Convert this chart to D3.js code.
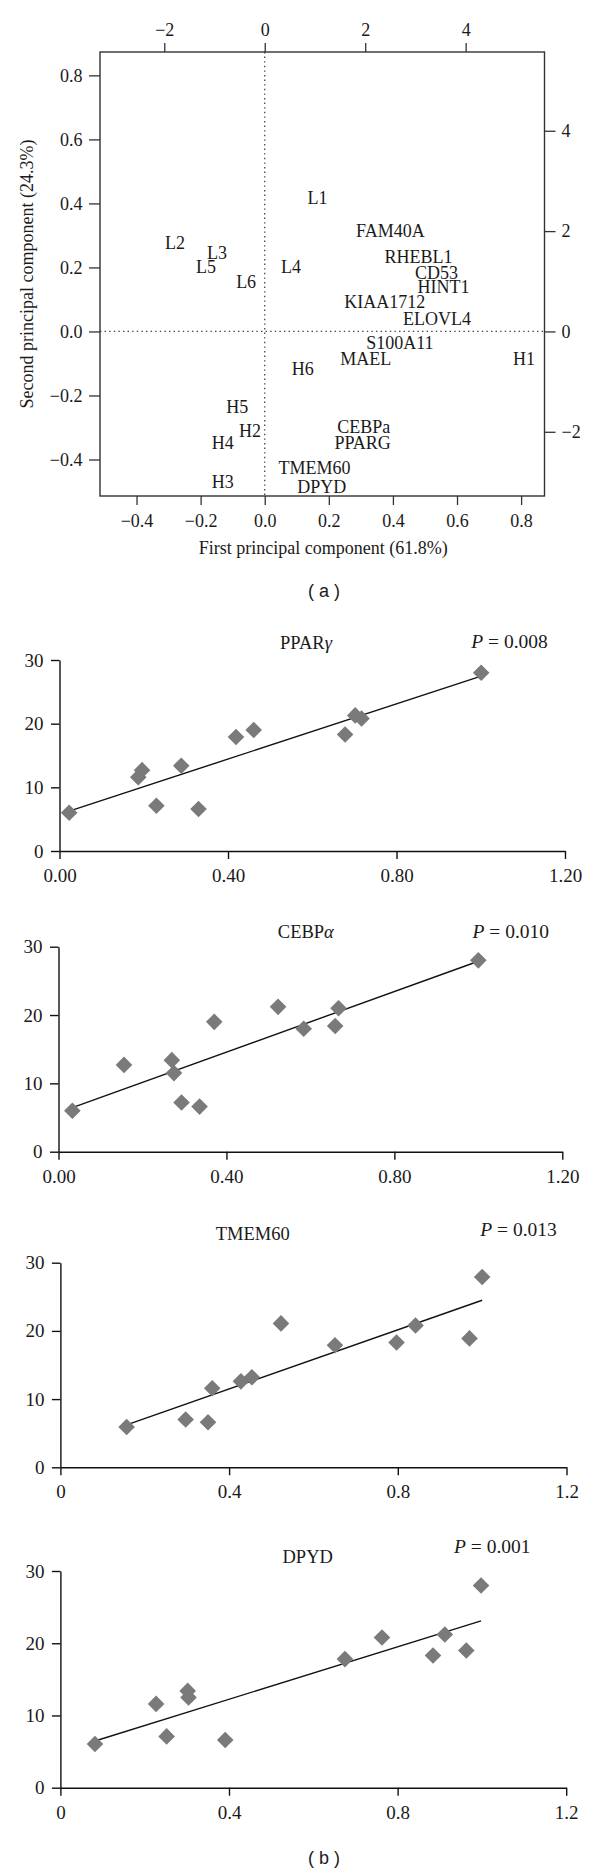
<!DOCTYPE html>
<html>
<head>
<meta charset="utf-8">
<script src="https://cdn.jsdelivr.net/npm/d3@7"></script>
<style>
  body { margin: 0; background: #fff; }
  svg { display: block; }
  text { font-family: "Liberation Serif", "Times New Roman", serif; fill: #1a1a1a; }
</style>
</head>
<body>
<svg id="chart" width="600" height="1875"></svg>
<script>
// ---------- Panel (a): PCA biplot ----------
const obsLabels = ["L1","L2","L3","L4","L5","L6","H1","H2","H3","H4","H5","H6"];
const obsPC1 = [0.165,-0.280,-0.149,0.082,-0.183,-0.058,0.809,-0.046,-0.131,-0.131,-0.086,0.119];
const obsPC2 = [0.416,0.276,0.246,0.201,0.201,0.156,-0.087,-0.310,-0.469,-0.349,-0.235,-0.118];
const geneLabels = ["FAM40A","RHEBL1","CD53","HINT1","KIAA1712","ELOVL4","S100A11","MAEL","CEBPa","PPARG","TMEM60","DPYD"];
const genePC1 = [2.50,3.06,3.42,3.56,2.39,3.43,2.69,2.01,1.97,1.95,0.99,1.135];
const genePC2 = [2.00,1.48,1.16,0.88,0.58,0.25,-0.235,-0.55,-1.90,-2.23,-2.71,-3.10];
const pcLim = [-0.514, 0.873];
const loadLim = [-3.28, 5.57];
const pcTicks = [-0.4,-0.2,0.0,0.2,0.4,0.6,0.8];
const loadTicks = [-2,0,2,4];
const xTitleA = "First principal component (61.8%)";
const yTitleA = "Second principal component (24.3%)";

// ---------- Panel (b): scatter plots ----------
const pparX = [0.023,0.187,0.196,0.230,0.289,0.330,0.419,0.461,0.678,0.702,0.717,1.001];
const pparY = [6.0,11.6,12.7,7.1,13.4,6.6,17.9,19.0,18.3,21.3,20.8,28.0];
const cebpX = [0.033,0.156,0.270,0.275,0.293,0.336,0.371,0.523,0.584,0.659,0.667,1.0];
const cebpY = [6.0,12.7,13.4,11.5,7.2,6.6,19.0,21.2,18.0,18.4,21.0,28.0];
const tmemX = [0.157,0.297,0.350,0.360,0.428,0.454,0.523,0.651,0.797,0.842,0.970,1.0];
const tmemY = [5.9,7.0,6.6,11.6,12.6,13.2,21.1,17.9,18.3,20.8,18.9,27.9];
const dpydX = [0.082,0.227,0.252,0.302,0.304,0.391,0.675,0.763,0.884,0.912,0.963,0.998];
const dpydY = [6.05,11.6,7.1,13.4,12.5,6.6,17.8,20.8,18.3,21.2,19.0,28.0];
const scatterXTicks = [0, 0.4, 0.8, 1.2];
const scatterYTicks = [0, 10, 20, 30];
const scatterTitles = ["PPAR", "CEBP", "TMEM60", "DPYD"];
const scatterGreek = ["γ", "α", "", ""];
const pValues = ["0.008", "0.010", "0.013", "0.001"];
const xTickFormats = [".2f", ".2f", "", ""];

const svg = d3.select("#chart");
const FS_A = 18;

// ===== Panel (a) =====
const boxA = {left: 100, right: 544.5, top: 52, bottom: 496};
const xA = d3.scaleLinear().domain(pcLim).range([boxA.left, boxA.right]);
const yA = d3.scaleLinear().domain(pcLim).range([boxA.bottom, boxA.top]);
const xA2 = d3.scaleLinear().domain(loadLim).range([boxA.left, boxA.right]);
const yA2 = d3.scaleLinear().domain(loadLim).range([boxA.bottom, boxA.top]);

const gA = svg.append("g");
const fmt1 = d3.format(".1f");

function styleAxis(g, fs, col) {
  g.selectAll(".domain").remove();
  g.selectAll(".tick line").attr("stroke", col).attr("stroke-width", 1.3);
  g.selectAll(".tick text").attr("font-family", "Liberation Serif, serif")
    .attr("font-size", fs).attr("fill", "#1a1a1a");
}

gA.append("g").attr("transform", `translate(0,${boxA.bottom})`)
  .call(d3.axisBottom(xA).tickValues(pcTicks).tickFormat(fmt1).tickSize(9).tickPadding(9))
  .call(g => styleAxis(g, FS_A, "#333"));
gA.append("g").attr("transform", `translate(${boxA.left},0)`)
  .call(d3.axisLeft(yA).tickValues(pcTicks).tickFormat(fmt1).tickSize(11).tickPadding(6.5))
  .call(g => styleAxis(g, FS_A, "#333"));
gA.append("g").attr("transform", `translate(0,${boxA.top})`)
  .call(d3.axisTop(xA2).tickValues(loadTicks).tickFormat(d3.format("d")).tickSize(9).tickPadding(7))
  .call(g => styleAxis(g, FS_A, "#333"));
gA.append("g").attr("transform", `translate(${boxA.right},0)`)
  .call(d3.axisRight(yA2).tickValues(loadTicks).tickFormat(d3.format("d")).tickSize(11).tickPadding(6))
  .call(g => styleAxis(g, FS_A, "#333"));

// dotted zero lines
gA.append("line").attr("x1", xA(0)).attr("x2", xA(0)).attr("y1", boxA.top).attr("y2", boxA.bottom)
  .attr("stroke", "#444").attr("stroke-width", 1.3).attr("stroke-dasharray", "1.4,3.2");
gA.append("line").attr("x1", boxA.left).attr("x2", boxA.right).attr("y1", yA(0)).attr("y2", yA(0))
  .attr("stroke", "#444").attr("stroke-width", 1.3).attr("stroke-dasharray", "1.4,3.2");

// box
gA.append("rect").attr("x", boxA.left).attr("y", boxA.top)
  .attr("width", boxA.right - boxA.left).attr("height", boxA.bottom - boxA.top)
  .attr("fill", "none").attr("stroke", "#333").attr("stroke-width", 1.4);

// observation labels
gA.selectAll("text.obs").data(obsLabels).join("text").attr("class", "obs")
  .attr("x", (d, i) => xA(obsPC1[i])).attr("y", (d, i) => yA(obsPC2[i]))
  .attr("dy", "0.34em").attr("text-anchor", "middle").attr("font-size", FS_A).text(d => d);
// gene labels
gA.selectAll("text.gene").data(geneLabels).join("text").attr("class", "gene")
  .attr("x", (d, i) => xA2(genePC1[i])).attr("y", (d, i) => yA2(genePC2[i]))
  .attr("dy", "0.34em").attr("text-anchor", "middle").attr("font-size", FS_A).text(d => d);

// axis titles
gA.append("text").attr("x", (boxA.left + boxA.right) / 2 + 1).attr("y", 554)
  .attr("text-anchor", "middle").attr("font-size", FS_A).text(xTitleA);
gA.append("text").attr("transform", `translate(33,${(boxA.top + boxA.bottom) / 2}) rotate(-90)`)
  .attr("text-anchor", "middle").attr("font-size", FS_A).text(yTitleA);

svg.append("text").attr("x", 324).attr("y", 597).attr("text-anchor", "middle")
  .attr("font-size", 18).style("font-family", "Liberation Sans, Arial, sans-serif").text("( a )");

// ===== Panel (b) =====
const xsAll = [pparX, cebpX, tmemX, dpydX];
const ysAll = [pparY, cebpY, tmemY, dpydY];
const layouts = [
  {x0: 59.5, x1: 565, yTop: 660, yBot: 851, tX: 306, tY: 649, pX: 509.5, pY: 648},
  {x0: 58.5, x1: 562.3, yTop: 946.7, yBot: 1151.7, tX: 305.8, tY: 938, pX: 510.8, pY: 938},
  {x0: 60.4, x1: 566.5, yTop: 1262.7, yBot: 1467.3, tX: 252.7, tY: 1240, pX: 518.5, pY: 1236},
  {x0: 60.4, x1: 566.2, yTop: 1571, yBot: 1787.7, tX: 307.7, tY: 1562.7, pX: 492.3, pY: 1553.3}
];

layouts.forEach((L, k) => {
  const xs = xsAll[k], ys = ysAll[k];
  const x = d3.scaleLinear().domain([0, 1.2]).range([L.x0, L.x1]);
  const y = d3.scaleLinear().domain([0, 30]).range([L.yBot, L.yTop]);
  const g = svg.append("g");
  const xf = xTickFormats[k] ? d3.format(xTickFormats[k]) : (d => String(d));

  const ax = g.append("g").attr("transform", `translate(0,${L.yBot})`)
    .call(d3.axisBottom(x).tickValues(scatterXTicks).tickFormat(xf).tickSize(8).tickSizeOuter(0).tickPadding(9.5));
  const ay = g.append("g").attr("transform", `translate(${L.x0},0)`)
    .call(d3.axisLeft(y).tickValues(scatterYTicks).tickSize(8.5).tickSizeOuter(0).tickPadding(7.5));
  [ax, ay].forEach(a => {
    a.select(".domain").attr("stroke", "#111").attr("stroke-width", 1.4);
    a.selectAll(".tick line").attr("stroke", "#111").attr("stroke-width", 1.4);
    a.selectAll(".tick text").attr("font-family", "Liberation Serif, serif")
      .attr("font-size", 19).attr("fill", "#1a1a1a");
  });

  // regression line (least squares)
  const mx = d3.mean(xs), my = d3.mean(ys);
  const sxy = d3.sum(xs, (v, i) => (v - mx) * (ys[i] - my));
  const sxx = d3.sum(xs, v => (v - mx) * (v - mx));
  const b = sxy / sxx, a0 = my - b * mx;
  const [xmin, xmax] = d3.extent(xs);
  g.append("line").attr("x1", x(xmin)).attr("y1", y(a0 + b * xmin))
    .attr("x2", x(xmax)).attr("y2", y(a0 + b * xmax))
    .attr("stroke", "#111").attr("stroke-width", 1.4);

  // diamonds
  const s = 8.3;
  g.selectAll("path.pt").data(xs).join("path").attr("class", "pt")
    .attr("d", (d, i) => {
      const cx = x(d), cy = y(ys[i]);
      return `M${cx},${cy - s}L${cx + s},${cy}L${cx},${cy + s}L${cx - s},${cy}Z`;
    })
    .attr("fill", "#7a7a7a");

  // title
  const t = g.append("text").attr("x", L.tX).attr("y", L.tY).attr("text-anchor", "middle").attr("font-size", 18.5);
  t.append("tspan").text(scatterTitles[k]);
  if (scatterGreek[k]) t.append("tspan").attr("font-style", "italic").text(scatterGreek[k]);

  const p = g.append("text").attr("x", L.pX).attr("y", L.pY).attr("text-anchor", "middle").attr("font-size", 19.5);
  p.append("tspan").attr("font-style", "italic").text("P");
  p.append("tspan").text(" = " + pValues[k]);
});

svg.append("text").attr("x", 324).attr("y", 1864).attr("text-anchor", "middle")
  .attr("font-size", 18).style("font-family", "Liberation Sans, Arial, sans-serif").text("( b )");
</script>
</body>
</html>
